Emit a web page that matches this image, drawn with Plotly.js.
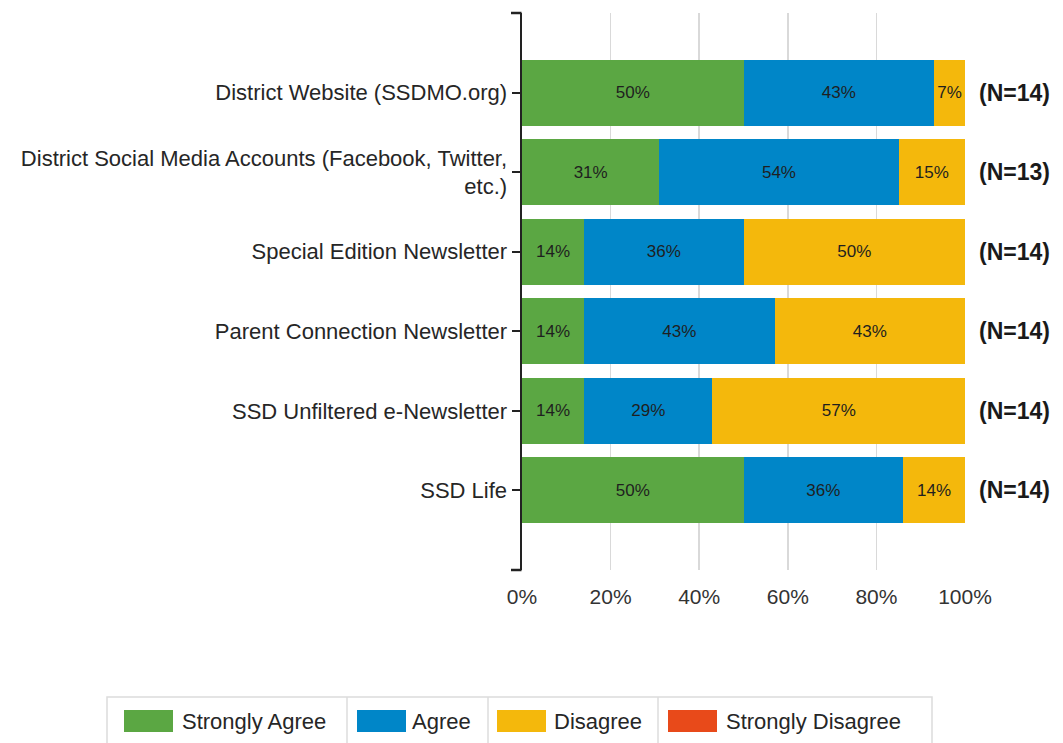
<!DOCTYPE html>
<html>
<head>
<meta charset="utf-8">
<script src="https://cdn.plot.ly/plotly-3.0.1.min.js"></script>
<style>html,body{margin:0;padding:0;background:#fff;}#chart{width:1063px;height:743px;}</style>
</head>
<body>
<div id="chart"></div>
<script>
// ---- data ----
const categories = [
  "District Website (SSDMO.org)",
  "District Social Media Accounts (Facebook, Twitter,<br>etc.)",
  "Special Edition Newsletter",
  "Parent Connection Newsletter",
  "SSD Unfiltered e-Newsletter",
  "SSD Life"
];
const stronglyAgree    = [50, 31, 14, 14, 14, 50];
const agree            = [43, 54, 36, 43, 29, 36];
const disagree         = [7, 15, 50, 43, 57, 14];
const stronglyDisagree = [0, 0, 0, 0, 0, 0];
const nLabels = ["(N=14)", "(N=13)", "(N=14)", "(N=14)", "(N=14)", "(N=14)"];
const seriesNames = ["Strongly Agree", "Agree", "Disagree", "Strongly Disagree"];
const xTickVals = [0, 20, 40, 60, 80, 100];
const xTickText = ["0%", "20%", "40%", "60%", "80%", "100%"];

// ---- style ----
const FONT = "Liberation Sans, Arial, sans-serif";
const colors = ["#5ba743", "#0086c8", "#f4b80c", "#e84a1a"];
const W = 1063, H = 743;
const L = 522, R = 965, T = 13, B = 570;
const px = v => (v - L) / (R - L);
const py = v => (B - v) / (B - T);

const seriesValues = [stronglyAgree, agree, disagree, stronglyDisagree];
const traces = seriesValues.map((vals, i) => ({
  type: "bar",
  orientation: "h",
  name: seriesNames[i],
  x: vals,
  y: categories,
  text: vals.map(v => v > 0 ? v + "%" : ""),
  textposition: "inside",
  insidetextanchor: "middle",
  textfont: {family: FONT, size: 17, color: "#1f1f1f"},
  marker: {color: colors[i], line: {width: 0}},
  hoverinfo: "none",
  showlegend: false
}));

const shapes = [];
const annotations = [];

// axis bracket ends
[0, 1].forEach(yy => shapes.push({
  type: "line", xref: "paper", yref: "paper",
  x0: px(511), x1: px(521.5), y0: yy, y1: yy,
  line: {color: "#222", width: 2.5}
}));

// N labels
categories.forEach((c, i) => annotations.push({
  xref: "paper", yref: "y", x: px(977), y: c, xanchor: "left", yanchor: "middle",
  text: "<b>" + nLabels[i] + "</b>", showarrow: false,
  font: {family: FONT, size: 23, color: "#1a1a1a"}
}));

// custom legend
const legTop = 697, legBot = 760;
shapes.push({type: "rect", xref: "paper", yref: "paper",
  x0: px(107), x1: px(932), y0: py(legBot), y1: py(legTop),
  line: {color: "#dcdcdc", width: 1.5}, fillcolor: "rgba(0,0,0,0)"});
[347, 488, 658].forEach(x => shapes.push({type: "line", xref: "paper", yref: "paper",
  x0: px(x), x1: px(x), y0: py(legBot), y1: py(legTop),
  line: {color: "#dcdcdc", width: 1.5}}));
const swatchX = [124, 357, 497, 668];
const textX = [180, 410, 552, 724];
seriesNames.forEach((n, i) => {
  shapes.push({type: "rect", xref: "paper", yref: "paper",
    x0: px(swatchX[i]), x1: px(swatchX[i] + 49), y0: py(732), y1: py(710),
    line: {width: 0}, fillcolor: colors[i]});
  annotations.push({xref: "paper", yref: "paper", x: px(textX[i]), y: py(721),
    xanchor: "left", yanchor: "middle", text: n, showarrow: false,
    font: {family: FONT, size: 22, color: "#262626"}});
});

const layout = {
  width: W, height: H,
  margin: {l: L, r: W - R, t: T, b: H - B, pad: 0},
  paper_bgcolor: "#fff", plot_bgcolor: "#fff",
  barmode: "stack", bargap: 0.17,
  font: {family: FONT, size: 22, color: "#262626"},
  xaxis: {
    range: [0, 100], tickmode: "array", tickvals: xTickVals, ticktext: xTickText,
    showgrid: true, gridcolor: "#d9d9d9", gridwidth: 1.5,
    zeroline: false, showline: false, ticks: "",
    tickfont: {family: FONT, size: 21, color: "#333"},
    ticklabelstandoff: 12, fixedrange: true
  },
  yaxis: {
    type: "category", range: [6, -1],
    showline: true, linecolor: "#222", linewidth: 2.5,
    ticks: "outside", ticklen: 8, tickwidth: 2, tickcolor: "#222",
    showgrid: false, zeroline: false,
    tickfont: {family: FONT, size: 22, color: "#262626"},
    ticklabelstandoff: 0, fixedrange: true
  },
  shapes: shapes,
  annotations: annotations,
  showlegend: false
};

Plotly.newPlot("chart", traces, layout, {displayModeBar: false, staticPlot: true});
</script>
</body>
</html>
